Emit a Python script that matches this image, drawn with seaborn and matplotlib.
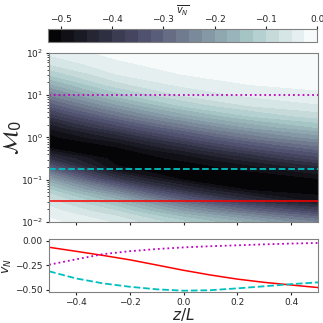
import numpy as np
import pandas as pd
import seaborn as sns
import matplotlib.pyplot as plt

# grid of the field
z_grid = [-0.5, -0.25, 0.0, 0.25, 0.5]
log_m0 = [-2.0, -1.75, -1.5, -1.25, -1.0, -0.75, -0.5, -0.25, 0.0,
          0.25, 0.5, 0.75, 1.0, 1.25, 1.5, 1.75, 2.0]
# rows = log_m0, columns = z_grid
vn_field = [
    [-0.019, -0.054, -0.120, -0.184, -0.255],
    [-0.037, -0.098, -0.200, -0.289, -0.367],
    [-0.069, -0.164, -0.300, -0.415, -0.490],
    [-0.120, -0.263, -0.415, -0.503, -0.512],
    [-0.197, -0.390, -0.505, -0.516, -0.505],
    [-0.303, -0.495, -0.513, -0.495, -0.445],
    [-0.411, -0.515, -0.495, -0.430, -0.362],
    [-0.502, -0.505, -0.430, -0.348, -0.286],
    [-0.511, -0.445, -0.348, -0.266, -0.213],
    [-0.467, -0.362, -0.266, -0.192, -0.145],
    [-0.397, -0.280, -0.190, -0.125, -0.088],
    [-0.320, -0.208, -0.122, -0.074, -0.053],
    [-0.249, -0.138, -0.072, -0.044, -0.030],
    [-0.181, -0.084, -0.043, -0.025, -0.018],
    [-0.118, -0.050, -0.024, -0.015, -0.011],
    [-0.071, -0.029, -0.015, -0.010, -0.006],
    [-0.042, -0.017, -0.009, -0.005, -0.003],
]

# cuts at fixed M0 (bottom panel)
m0_cuts = [0.032, 0.18, 10.0]
cut_colors = ["red", "c", "m"]
cut_styles = ["-", "--", ":"]
z_line = [-0.5, -0.4, -0.3, -0.2, -0.1, 0.0, 0.1, 0.2, 0.3, 0.4, 0.5]
vn_red = [-0.067, -0.108, -0.150, -0.195, -0.248, -0.302, -0.350, -0.392, -0.425, -0.452, -0.478]
vn_cyan = [-0.312, -0.385, -0.435, -0.470, -0.496, -0.510, -0.505, -0.486, -0.465, -0.443, -0.425]
vn_magenta = [-0.245, -0.190, -0.137, -0.107, -0.085, -0.068, -0.056, -0.047, -0.037, -0.029, -0.023]

sns.set_style("ticks", {"axes.edgecolor": "0.5"})

fig = plt.figure(figsize=(3.23, 3.23), dpi=100)
cax = fig.add_axes([0.149, 0.870, 0.833, 0.040])
ax = fig.add_axes([0.152, 0.313, 0.833, 0.523])
ax2 = fig.add_axes([0.152, 0.097, 0.833, 0.162])

levels = np.arange(-0.525, 0.001, 0.025)
m0 = 10.0 ** np.array(log_m0)
cs = ax.contourf(z_grid, m0, np.array(vn_field), levels=levels, cmap="bone")
ax.set_yscale("log")
ax.set_ylim(1e-2, 1e2)
ax.set_xlim(-0.5, 0.5)
ax.set_xticks([-0.4, -0.2, 0.0, 0.2, 0.4])
ax.set_xticklabels([])
for m, c, ls in zip(m0_cuts, cut_colors, cut_styles):
    ax.axhline(m, color=c, ls=ls, lw=1.3 if ls != "-" else 1.1)
ax.set_ylabel(r"$\mathcal{M}_0$", fontsize=15)
ax.yaxis.set_label_coords(-0.095, 0.5)
ax.tick_params(labelsize=6.5, length=2.5, pad=2)
ax.tick_params(which="minor", length=1.5)

cb = fig.colorbar(cs, cax=cax, orientation="horizontal", ticks=[-0.5, -0.4, -0.3, -0.2, -0.1, 0.0])
cax.xaxis.set_ticks_position("top")
cax.xaxis.set_label_position("top")
cb.set_label(r"$\overline{v_N}$", fontsize=7, labelpad=1)
cax.tick_params(labelsize=6.5, length=2, pad=1.5)
cb.outline.set_edgecolor("0.5")

lines = pd.DataFrame({"z": z_line * 3,
                      "vn": vn_red + vn_cyan + vn_magenta,
                      "M0": [str(m) for m in m0_cuts for _ in z_line]})
for m, c, ls in zip(m0_cuts, cut_colors, cut_styles):
    sub = lines[lines["M0"] == str(m)]
    sns.lineplot(data=sub, x="z", y="vn", color=c, ls=ls, lw=1.3 if ls != "-" else 1.1, ax=ax2)
ax2.set_xlim(-0.5, 0.5)
ax2.set_ylim(-0.52, 0.014)
ax2.set_xticks([-0.4, -0.2, 0.0, 0.2, 0.4])
ax2.set_yticks([0.0, -0.25, -0.5])
ax2.set_yticklabels(["0.00", "\u22120.25", "\u22120.50"])
ax2.set_xlabel(r"$z/L$", fontsize=11, labelpad=-1)
ax2.set_ylabel(r"$\overline{v_N}$", fontsize=9)
ax2.yaxis.set_label_coords(-0.13, 0.5)
ax2.tick_params(labelsize=6.5, length=2.5, pad=2)

fig.savefig("out.png", dpi=100)
